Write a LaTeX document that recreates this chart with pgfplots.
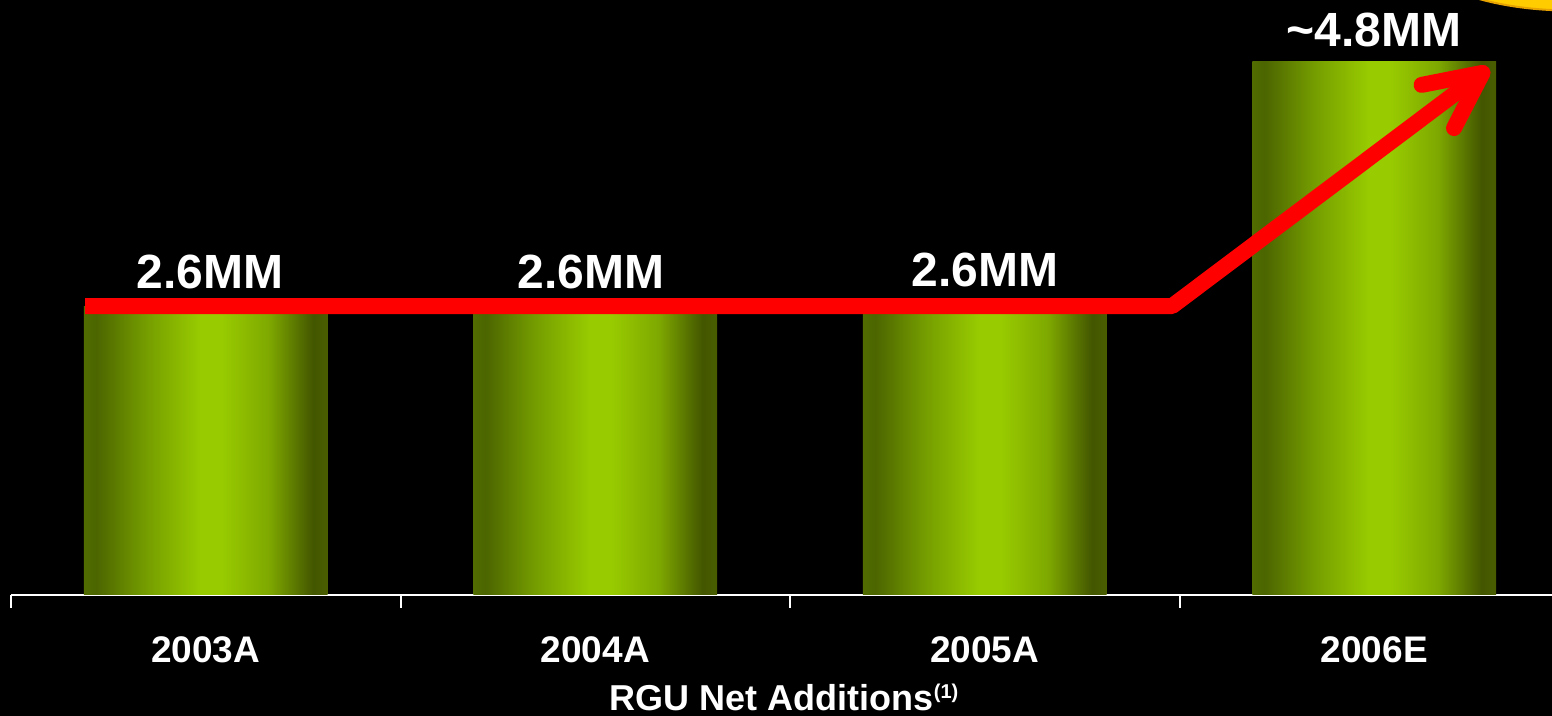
\documentclass[border=0pt]{standalone}
\usepackage{pgfplots}
\pgfplotsset{compat=1.18}
\usepackage{fontspec}
\setmainfont{Liberation Sans}
\usetikzlibrary{arrows.meta}
\definecolor{bE}{HTML}{516D00}
\definecolor{bLd}{HTML}{4C6500}
\definecolor{bLq}{HTML}{749C00}
\definecolor{bMid}{HTML}{99CC00}
\definecolor{bRq}{HTML}{7EA800}
\definecolor{bRd}{HTML}{435600}
\definecolor{bR}{HTML}{4A5E00}
\definecolor{ellFill}{HTML}{FFCC00}
\definecolor{ellDraw}{HTML}{E6A200}
\pgfdeclarehorizontalshading{barshade}{100bp}{color(0bp)=(bE); color(25bp)=(bE); color(27.5bp)=(bLd); color(37.5bp)=(bLq); color(49bp)=(bMid); color(53bp)=(bMid); color(63bp)=(bRq); color(72bp)=(bRd); color(75bp)=(bR); color(100bp)=(bR)}
\pgfplotsset{
  mybar/.style={ybar, bar width=0.6264, bar shift=0pt, draw=none, shade, shading=barshade,
    nodes near coords, point meta=explicit symbolic,
    nodes near coords style={font=\fontsize{24}{24}\selectfont\bfseries, text=white, anchor=base, yshift=9pt}},
}
\begin{document}
\begin{tikzpicture}
\fill[black] (-5.5pt,-60.5pt) rectangle (770.5pt,297.5pt);
\useasboundingbox (-5.5pt,-60.5pt) rectangle (770.5pt,297.5pt);
\begin{axis}[
  at={(0,0)}, anchor=south west,
  scale only axis, width=770.5pt, height=297.5pt,
  xmin=-0.5, xmax=3.4564, ymin=0, ymax=5.3555,
  axis x line*=bottom, hide y axis,
  x axis line style={white, line width=1pt, -},
  xtick={0,1,2,3}, xticklabels={2003A,2004A,2005A,2006E},
  major tick length=0pt,
  minor xtick={-0.5,0.5,1.5,2.5}, minor tick length=6.5pt,
  tick align=outside, tick style={white, line width=1pt},
  xticklabel style={font=\fontsize{18.5}{18.5}\selectfont\bfseries, text=white, anchor=base, yshift=-34pt},
  xlabel={RGU Net Additions\textsuperscript{\fontsize{10}{10}\selectfont(1)}},
  xlabel style={font=\fontsize{18}{18}\selectfont\bfseries, text=white, at={(axis description cs:0.502,0)}, anchor=base, yshift=-58pt},
  clip=false,
]
\addplot[mybar, nodes near coords style={xshift=2pt}] coordinates {(0,2.6)[2.6MM]};
\addplot[mybar, nodes near coords style={xshift=-2pt}] coordinates {(1,2.6)[2.6MM]};
\addplot[mybar, nodes near coords style={yshift=1pt}] coordinates {(2,2.6)[2.6MM]};
\addplot[mybar, nodes near coords style={yshift=-1.5pt}] coordinates {(3,4.8)[\textasciitilde 4.8MM]};
\addplot[red, line width=8pt, line join=bevel, line cap=butt, mark=none,
  -{Straight Barb[length=28pt, width=27pt, round]}]
  coordinates {(-0.310,2.6) (2.4808,2.6) (3.2946,4.743)};
\end{axis}
\draw[draw=ellDraw, fill=ellFill, line width=1pt] (779.5pt,327.5pt) ellipse [x radius=83pt, y radius=35.25pt];
\end{tikzpicture}
\end{document}
